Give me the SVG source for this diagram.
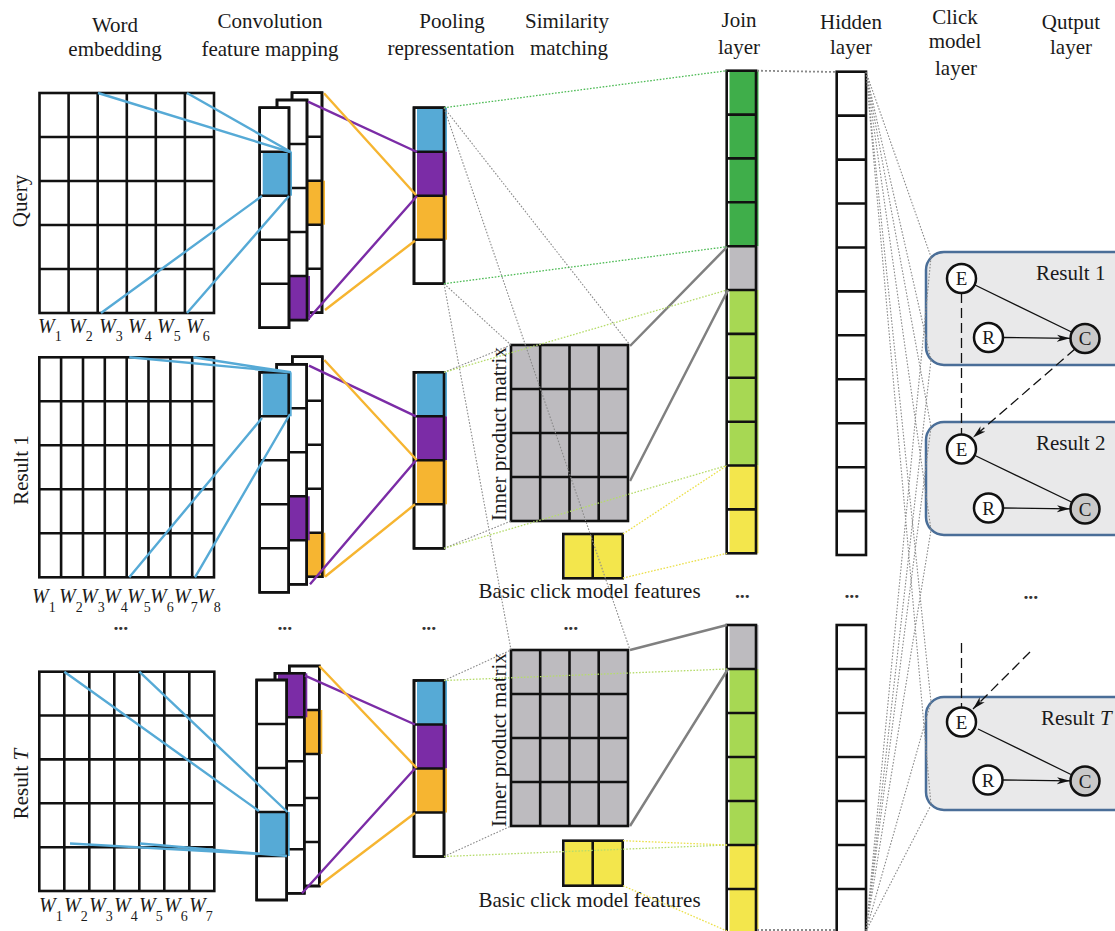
<svg xmlns="http://www.w3.org/2000/svg" width="1115" height="931" viewBox="0 0 1115 931">
<defs>
<style>
.t{font-family:"Liberation Serif","Times New Roman",serif;font-size:21px;fill:#1a1a1a}
.c{text-anchor:middle}
.wl{font-family:"Liberation Serif","Times New Roman",serif;font-size:20px;fill:#1a1a1a}
.wl .i{font-style:italic}
.wl .s{font-size:14px}
.ln{stroke:#111;stroke-width:2.6;fill:none}
.wb{fill:#fff;stroke:#111;stroke-width:2.6}
.ol{fill:none;stroke:#111;stroke-width:2.6}
.blue{fill:#56aad6}.pur{fill:#7b2ca6}.ora{fill:#f6b531}.dgr{fill:#3fae4a}.lgr{fill:#a7d853}.yel{fill:#f3e64c}.gry{fill:#bdbbbf}
.mat{fill:#bdbbbf;stroke:#111;stroke-width:2.6}
.cb{stroke:#56aad6;stroke-width:2.4;fill:none}
.cp{stroke:#7b2ca6;stroke-width:2.4;fill:none}
.co{stroke:#f6b531;stroke-width:2.4;fill:none}
.dot{stroke:#8a8a8a;stroke-width:1.1;stroke-dasharray:1.6 1.6;fill:none}
.dotb{stroke:#8a8a8a;stroke-width:1.8;stroke-dasharray:2 2;fill:none}
.dgd{stroke:#4dbb55;stroke-width:1.3;stroke-dasharray:1.6 1.6;fill:none}
.lgd{stroke:#b6dc6c;stroke-width:1.3;stroke-dasharray:1.6 1.6;fill:none}
.yd{stroke:#ebe04a;stroke-width:1.3;stroke-dasharray:1.6 1.6;fill:none}
.thk{stroke:#808080;stroke-width:2.5;fill:none}
.box{fill:#e9e9ea;stroke:#4a6e98;stroke-width:2.5}
.nd{fill:#fff;stroke:#111;stroke-width:2.5}
.ndc{fill:#c9c9c9;stroke:#111;stroke-width:2.5}
.nt{font-family:"Liberation Serif","Times New Roman",serif;font-size:19px;fill:#1a1a1a;text-anchor:middle}
.arr{stroke:#111;stroke-width:1.3;fill:none;marker-end:url(#ah)}
.dash{stroke:#111;stroke-width:1.3;fill:none;stroke-dasharray:10 5;marker-end:url(#ah)}
.el{font-family:"DejaVu Sans",sans-serif;font-size:11px;letter-spacing:-1.6px;fill:#333;text-anchor:middle}
</style>
<marker id="ah" markerWidth="14" markerHeight="8" refX="13" refY="4" orient="auto" markerUnits="userSpaceOnUse"><path d="M0,0.5 L13,4 L0,7.5 L3.5,4 z" fill="#111"/></marker>
</defs>
<rect width="1115" height="931" fill="#fff"/>

<g id="headers" class="t c">
<text x="115" y="31.5">Word</text><text x="115" y="56">embedding</text>
<text x="270" y="27.5">Convolution</text><text x="270" y="56">feature mapping</text>
<text x="452" y="28">Pooling</text><text x="451" y="55">repressentation</text>
<text x="567" y="28">Similarity</text><text x="569" y="55">matching</text>
<text x="739" y="27">Join</text><text x="739" y="53.5">layer</text>
<text x="851" y="29">Hidden</text><text x="851" y="54">layer</text>
<text x="955" y="24">Click</text><text x="955" y="48">model</text><text x="956" y="75">layer</text>
<text x="1071" y="29">Qutput</text><text x="1071" y="54">layer</text>
</g>

<g id="row-labels" class="t c">
<text transform="translate(27,201) rotate(-90)">Query</text>
<text transform="translate(28,470) rotate(-90)">Result 1</text>
<text transform="translate(28,784) rotate(-90)">Result <tspan font-style="italic">T</tspan></text>
</g>

<!-- Query -->
<g id="q-embed">
<rect class="wb" x="39.5" y="93" width="174.5" height="220"/>
<path class="ln" d="M68.6,93V313M97.7,93V313M126.8,93V313M155.8,93V313M184.9,93V313M39.5,137H214M39.5,181H214M39.5,225H214M39.5,269H214"/>
<g class="wl">
<text x="38" y="333"><tspan class="i">W</tspan><tspan class="s" dy="8">1</tspan></text>
<text x="69" y="333"><tspan class="i">W</tspan><tspan class="s" dy="8">2</tspan></text>
<text x="99" y="333"><tspan class="i">W</tspan><tspan class="s" dy="8">3</tspan></text>
<text x="128" y="333"><tspan class="i">W</tspan><tspan class="s" dy="8">4</tspan></text>
<text x="157" y="333"><tspan class="i">W</tspan><tspan class="s" dy="8">5</tspan></text>
<text x="186" y="333"><tspan class="i">W</tspan><tspan class="s" dy="8">6</tspan></text>
</g>
</g>
<g id="q-conv">
<rect class="wb" x="292" y="92.7" width="30" height="220"/>
<rect class="ora" x="295" y="180.7" width="30" height="44"/>
<rect class="ol" x="292" y="92.7" width="30" height="220"/>
<path class="ln" d="M292,136.7H322M292,180.7H322M292,224.7H322M292,268.7H322"/>
<rect class="wb" x="277" y="100" width="30" height="220"/>
<rect class="pur" x="280" y="276" width="30" height="44"/>
<rect class="ol" x="277" y="100" width="30" height="220"/>
<path class="ln" d="M277,144H307M277,188H307M277,232H307M277,276H307"/>
<rect class="wb" x="259.7" y="107.7" width="29.3" height="220"/>
<rect class="blue" x="262.7" y="151.7" width="29.3" height="44"/>
<rect class="ol" x="259.7" y="107.7" width="29.3" height="220"/>
<path class="ln" d="M259.7,151.7H289M259.7,195.7H289M259.7,239.7H289M259.7,283.7H289"/>
</g>
<g id="q-pool">
<rect class="wb" x="414" y="107.7" width="30" height="176"/>
<rect class="blue" x="417" y="107.7" width="30" height="44"/>
<rect class="pur" x="417" y="151.7" width="30" height="44"/>
<rect class="ora" x="417" y="195.7" width="30" height="44"/>
<rect class="ol" x="414" y="107.7" width="30" height="176"/>
<path class="ln" d="M414,151.7H444M414,195.7H444M414,239.7H444"/>
</g>

<!-- Result 1 -->
<g id="r1-embed">
<rect class="wb" x="39.3" y="357.3" width="174.7" height="220"/>
<path class="ln" d="M61.1,357.3V577.3M83,357.3V577.3M104.8,357.3V577.3M126.7,357.3V577.3M148.5,357.3V577.3M170.4,357.3V577.3M192.2,357.3V577.3M39.3,401.3H214M39.3,445.3H214M39.3,489.3H214M39.3,533.3H214"/>
<g class="wl">
<text x="32" y="603"><tspan class="i">W</tspan><tspan class="s" dy="9">1</tspan></text>
<text x="59" y="603"><tspan class="i">W</tspan><tspan class="s" dy="9">2</tspan></text>
<text x="81" y="603"><tspan class="i">W</tspan><tspan class="s" dy="9">3</tspan></text>
<text x="104" y="603"><tspan class="i">W</tspan><tspan class="s" dy="9">4</tspan></text>
<text x="127" y="603"><tspan class="i">W</tspan><tspan class="s" dy="9">5</tspan></text>
<text x="150" y="603"><tspan class="i">W</tspan><tspan class="s" dy="9">6</tspan></text>
<text x="174" y="603"><tspan class="i">W</tspan><tspan class="s" dy="9">7</tspan></text>
<text x="197" y="603"><tspan class="i">W</tspan><tspan class="s" dy="9">8</tspan></text>
</g>
</g>
<g id="r1-conv">
<rect class="wb" x="292.3" y="356.7" width="30" height="220"/>
<rect class="ora" x="295.3" y="532.7" width="30" height="44"/>
<rect class="ol" x="292.3" y="356.7" width="30" height="220"/>
<path class="ln" d="M292.3,400.7H322.3M292.3,444.7H322.3M292.3,488.7H322.3M292.3,532.7H322.3"/>
<rect class="wb" x="276.7" y="364.3" width="30" height="220"/>
<rect class="pur" x="279.7" y="496.3" width="30" height="44"/>
<rect class="ol" x="276.7" y="364.3" width="30" height="220"/>
<path class="ln" d="M276.7,408.3H306.7M276.7,452.3H306.7M276.7,496.3H306.7M276.7,540.3H306.7"/>
<rect class="wb" x="259.7" y="372.3" width="29" height="220"/>
<rect class="blue" x="262.7" y="372.3" width="29" height="44"/>
<rect class="ol" x="259.7" y="372.3" width="29" height="220"/>
<path class="ln" d="M259.7,416.3H288.7M259.7,460.3H288.7M259.7,504.3H288.7M259.7,548.3H288.7"/>
</g>
<g id="r1-pool">
<rect class="wb" x="414" y="372.3" width="30" height="176"/>
<rect class="blue" x="417" y="372.3" width="30" height="44"/>
<rect class="pur" x="417" y="416.3" width="30" height="44"/>
<rect class="ora" x="417" y="460.3" width="30" height="44"/>
<rect class="ol" x="414" y="372.3" width="30" height="176"/>
<path class="ln" d="M414,416.3H444M414,460.3H444M414,504.3H444"/>
</g>
<g id="r1-matrix">
<rect class="mat" x="511" y="345" width="117" height="176"/>
<path class="ln" d="M540.2,345V521M569.5,345V521M598.7,345V521M511,389H628M511,433H628M511,477H628"/>
<text class="t c" transform="translate(506,434) rotate(-90)">Inner product matrix</text>
</g>
<g id="r1-basic">
<rect class="yel" x="565" y="534" width="59" height="44.3"/>
<rect class="ol" x="563.3" y="534" width="59.4" height="44.3"/>
<path class="ln" d="M592.7,534V578.3"/>
<text class="t c" x="589.5" y="597.5">Basic click model features</text>
</g>

<!-- ellipses -->
<g id="ellipses" class="el">
<text x="120" y="632">•••</text>
<text x="284" y="632">•••</text>
<text x="428" y="632">•••</text>
<text x="570" y="632">•••</text>
<text x="741.5" y="600">•••</text>
<text x="851" y="600">•••</text>
<text x="1030" y="601">•••</text>
</g>

<!-- Result T -->
<g id="rT-embed">
<rect class="wb" x="39.3" y="671.7" width="175" height="219.3"/>
<path class="ln" d="M64.3,671.7V891M89.3,671.7V891M114.3,671.7V891M139.3,671.7V891M164.3,671.7V891M189.3,671.7V891M39.3,715.5H214.3M39.3,759.4H214.3M39.3,803.3H214.3M39.3,847.2H214.3"/>
<g class="wl">
<text x="39" y="912"><tspan class="i">W</tspan><tspan class="s" dy="9">1</tspan></text>
<text x="64" y="912"><tspan class="i">W</tspan><tspan class="s" dy="9">2</tspan></text>
<text x="89" y="912"><tspan class="i">W</tspan><tspan class="s" dy="9">3</tspan></text>
<text x="114" y="912"><tspan class="i">W</tspan><tspan class="s" dy="9">4</tspan></text>
<text x="139" y="912"><tspan class="i">W</tspan><tspan class="s" dy="9">5</tspan></text>
<text x="164" y="912"><tspan class="i">W</tspan><tspan class="s" dy="9">6</tspan></text>
<text x="189" y="912"><tspan class="i">W</tspan><tspan class="s" dy="9">7</tspan></text>
</g>
</g>
<g id="rT-conv">
<rect class="wb" x="289.3" y="666" width="30" height="220"/>
<rect class="ora" x="292.3" y="710" width="30" height="44"/>
<rect class="ol" x="289.3" y="666" width="30" height="220"/>
<path class="ln" d="M289.3,710H319.3M289.3,754H319.3M289.3,798H319.3M289.3,842H319.3"/>
<rect class="wb" x="275" y="673.3" width="29.3" height="220"/>
<rect class="pur" x="278" y="673.3" width="29.3" height="44"/>
<rect class="ol" x="275" y="673.3" width="29.3" height="220"/>
<path class="ln" d="M275,717.3H304.3M275,761.3H304.3M275,805.3H304.3M275,849.3H304.3"/>
<rect class="wb" x="256.7" y="680" width="30" height="220"/>
<rect class="blue" x="259.7" y="812" width="30" height="44"/>
<rect class="ol" x="256.7" y="680" width="30" height="220"/>
<path class="ln" d="M256.7,724H286.7M256.7,768H286.7M256.7,812H286.7M256.7,856H286.7"/>
</g>
<g id="rT-pool">
<rect class="wb" x="414" y="680.5" width="30" height="176"/>
<rect class="blue" x="417" y="680.5" width="30" height="44"/>
<rect class="pur" x="417" y="724.5" width="30" height="44"/>
<rect class="ora" x="417" y="768.5" width="30" height="44"/>
<rect class="ol" x="414" y="680.5" width="30" height="176"/>
<path class="ln" d="M414,724.5H444M414,768.5H444M414,812.5H444"/>
</g>
<g id="rT-matrix">
<rect class="mat" x="511" y="650" width="117" height="176"/>
<path class="ln" d="M540.2,650V826M569.5,650V826M598.7,650V826M511,694H628M511,738H628M511,782H628"/>
<text class="t c" transform="translate(506,740) rotate(-90)">Inner product matrix</text>
</g>
<g id="rT-basic">
<rect class="yel" x="565" y="840.7" width="59" height="45"/>
<rect class="ol" x="563.3" y="840.7" width="59.4" height="45"/>
<path class="ln" d="M592.7,840.7V885.7"/>
<text class="t c" x="589.5" y="907">Basic click model features</text>
</g>

<!-- Join and hidden layers -->
<g id="join-top">
<rect class="dgr" x="729.5" y="70.7" width="29" height="175.5"/>
<rect class="gry" x="729.5" y="246.2" width="29" height="43.8"/>
<rect class="lgr" x="729.5" y="290" width="29" height="175.5"/>
<rect class="yel" x="729.5" y="465.5" width="29" height="87.8"/>
<rect class="ol" x="726.7" y="70.7" width="29.3" height="482.6"/>
<path class="ln" d="M726.7,114.6H756M726.7,158.4H756M726.7,202.3H756M726.7,246.2H756M726.7,290H756M726.7,333.9H756M726.7,377.8H756M726.7,421.7H756M726.7,465.5H756M726.7,509.4H756"/>
</g>
<g id="join-bottom">
<rect class="gry" x="729.5" y="625" width="29" height="44"/>
<rect class="lgr" x="729.5" y="669" width="29" height="176"/>
<rect class="yel" x="729.5" y="845" width="29" height="88"/>
<rect class="ol" x="726.7" y="625" width="29.3" height="308"/>
<path class="ln" d="M726.7,669H756M726.7,713H756M726.7,757H756M726.7,801H756M726.7,845H756M726.7,889H756"/>
</g>
<g id="hidden-top">
<rect class="wb" x="836.7" y="71.7" width="29.3" height="483.3"/>
<path class="ln" d="M836.7,115.6H866M836.7,159.6H866M836.7,203.5H866M836.7,247.5H866M836.7,291.4H866M836.7,335.3H866M836.7,379.3H866M836.7,423.2H866M836.7,467.2H866M836.7,511.1H866"/>
</g>
<g id="hidden-bottom">
<rect class="wb" x="836.7" y="625" width="29.3" height="308"/>
<path class="ln" d="M836.7,669H866M836.7,713H866M836.7,757H866M836.7,801H866M836.7,845H866M836.7,889H866"/>
</g>

<!-- Click model -->
<g id="cm-r1">
<rect class="box" x="926" y="252" width="210" height="113" rx="18"/>
<text class="t" x="1036" y="279.5">Result 1</text>
<circle class="nd" cx="961.5" cy="278.5" r="14.5"/><text class="nt" x="961.5" y="285">E</text>
<circle class="nd" cx="988.5" cy="337.5" r="14.5"/><text class="nt" x="988.5" y="344">R</text>
<circle class="ndc" cx="1085" cy="338.5" r="14.5"/><text class="nt" x="1085" y="345">C</text>
</g>
<g id="cm-r2">
<rect class="box" x="926" y="422" width="210" height="113" rx="18"/>
<text class="t" x="1036" y="450">Result 2</text>
<circle class="nd" cx="961.5" cy="449" r="14.5"/><text class="nt" x="961.5" y="455.5">E</text>
<circle class="nd" cx="988.5" cy="508" r="14.5"/><text class="nt" x="988.5" y="514.5">R</text>
<circle class="ndc" cx="1085" cy="509" r="14.5"/><text class="nt" x="1085" y="515.5">C</text>
</g>
<g id="cm-rT">
<rect class="box" x="926" y="697" width="210" height="113" rx="18"/>
<text class="t" x="1041" y="724.5">Result <tspan font-style="italic">T</tspan></text>
<circle class="nd" cx="961.5" cy="722" r="14.5"/><text class="nt" x="961.5" y="728.5">E</text>
<circle class="nd" cx="988" cy="780" r="14.5"/><text class="nt" x="988" y="786.5">R</text>
<circle class="ndc" cx="1085" cy="781" r="14.5"/><text class="nt" x="1085" y="787.5">C</text>
</g>

<g id="connectors">
<!-- convolution windows -->
<path class="cb" d="M98,93L290,152M187,93L291,152M101,313L262,196M187,313L289,196"/>
<path class="cb" d="M129.3,357.3L290,372.3M193.3,357.3L291,372.3M129.3,577.3L262,418M195,577.3L290,414"/>
<path class="cb" d="M64.3,671.7L259,811M139.3,671.7L287.5,812M70,843.5L258,854M140,843.5L287,856"/>
<!-- pooling -->
<path class="cp" d="M308,101.7L417,152M309,318.3L417,196"/>
<path class="co" d="M324,93.3L416,195M325,310L415,240.7"/>
<path class="cp" d="M309,365.7L416,416.3M310,584.3L416,460.3"/>
<path class="co" d="M324.3,360L416.7,460M325,576.7L415,504.3"/>
<path class="cp" d="M305,675.7L415,724.5M302,893.3L415,768.5"/>
<path class="co" d="M319.3,666L416.7,768M320,885L415,813"/>
<!-- similarity -->
<path class="dot" d="M444,107.7L630,345M444,107.7L630,650M444,283.7L511,345M444,283.7L511,650M444,372.3L511,345M444,548.3L511,521M444,680.5L511,650M444,856.5L511,826"/>
<path class="thk" d="M630,346L727,247M630,481L728,290M630,650L727,625M630,826L728,669"/>
<!-- to join layer -->
<path class="dgd" d="M444,107.7L727,70.7M444,283.7L727,246.7"/>
<path class="lgd" d="M444,372.3L727,290M444,548.3L727,465.5M444,680.5L727,669M444,856.5L727,845"/>
<path class="yd" d="M623,534L727,465.5M623,578L727,553.3M623,840.7L727,845M623,885.7L727,931"/>
<!-- join to hidden -->
<path class="dotb" d="M757,70.7L837,72M757,930L837,930"/>
<!-- hidden to click model -->
<path class="dot" d="M866,72L931,257M866,72L931,360M866,72L931,427M866,72L931,530M866,72L931,702M866,72L931,805M866,931L931,257M866,931L931,360M866,931L931,427M866,931L931,530M866,931L931,702M866,931L931,805"/>
<!-- click model arrows -->
<path class="arr" d="M975,285L1071.5,332M1003,337.5L1070,338.3"/>
<path class="arr" d="M975,455.5L1071.5,502M1003,508L1070,508.8"/>
<path class="arr" d="M978,729L1071,774.5M1003,780L1070,780.8"/>
<path class="dash" d="M961.5,293V434.5M1075,349L973,437.5"/>
<path class="dash" d="M961.5,643V707.5M1030,652L973,709"/>
</g>
</svg>
